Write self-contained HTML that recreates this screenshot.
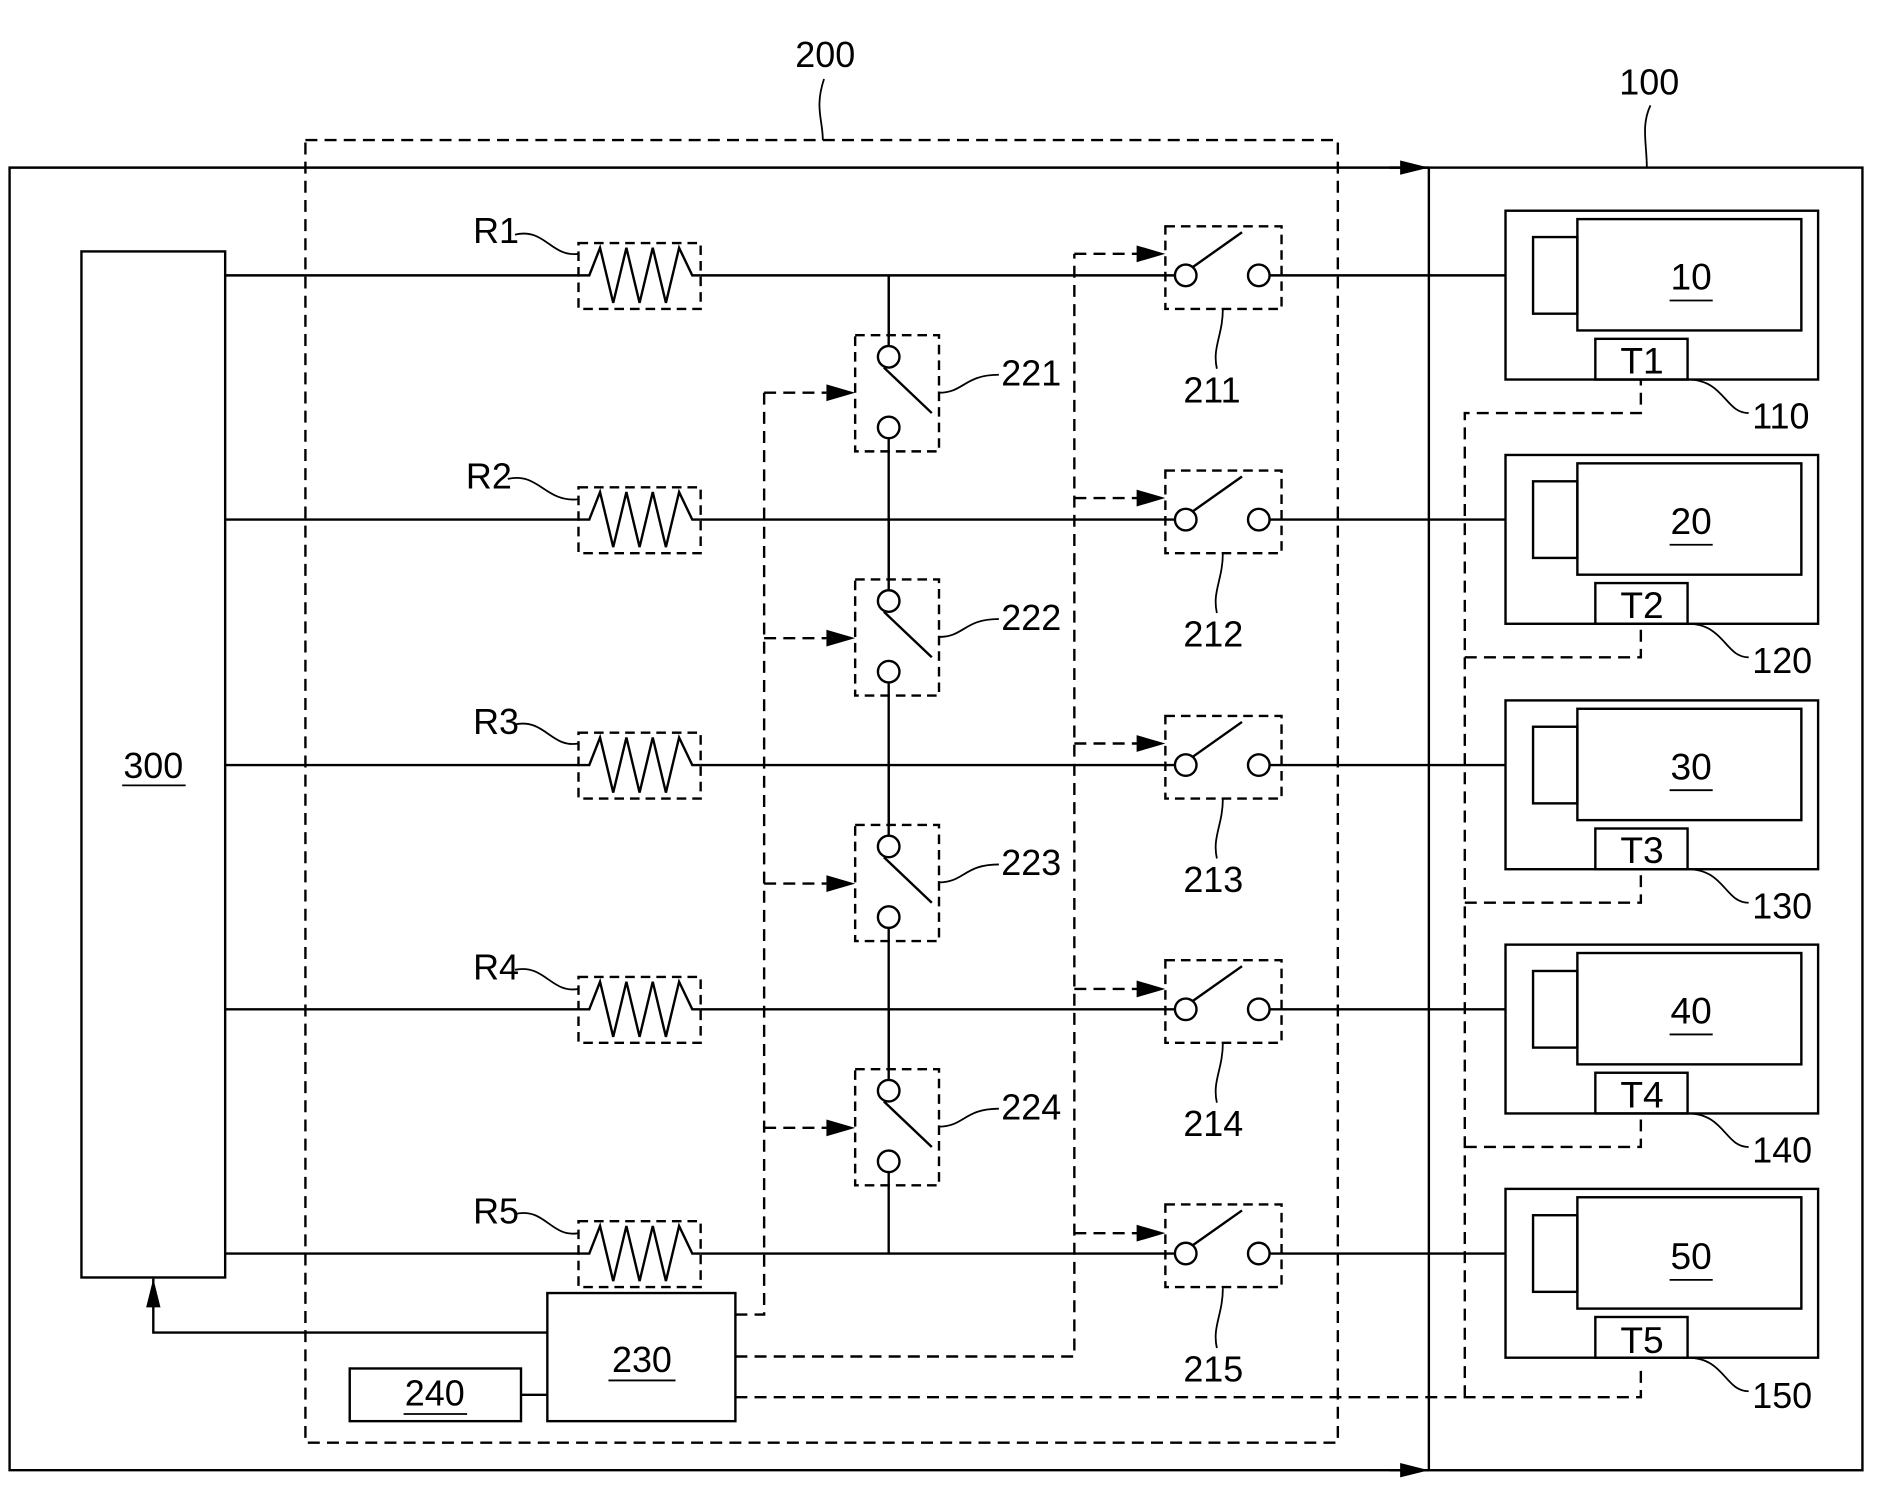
<!DOCTYPE html>
<html><head><meta charset="utf-8"><style>html,body{margin:0;padding:0;background:#fff}svg{display:block}</style></head><body>
<svg width="1878" height="1487" viewBox="0 0 1568 1242" preserveAspectRatio="none" xmlns="http://www.w3.org/2000/svg" font-family="Liberation Sans, sans-serif" font-size="30" fill="none" stroke="#000" stroke-width="2">
<defs>
<marker id="b" markerWidth="24" markerHeight="12" refX="24" refY="6" orient="auto" markerUnits="userSpaceOnUse"><path d="M0,0L24,6L0,12z" fill="#000" stroke="none"/></marker></defs>
<path d="M1193,140H8V1228H1193" />
<path d="M1160,140H1193" marker-end="url(#b)"/>
<path d="M1160,1228H1193" marker-end="url(#b)"/>
<rect x="1193" y="140" width="362" height="1088"/>
<rect x="255" y="117" width="862" height="1088" stroke-dasharray="10,6"/>
<rect x="68" y="210" width="120" height="857"/>
<text x="128" y="650" stroke="none" fill="#000" text-anchor="middle">300</text><path d="M102,656H155" stroke-width="1.5"/>
<path d="M742,230V1047"/>
<path d="M188,230H1257M188,434H1257M188,639H1257M188,843H1257M188,1047H1257"/>
<g stroke-width="2">
<g transform="translate(0,0)"><rect x="483" y="203" width="102" height="55" fill="#fff" stroke-dasharray="8,5"/><path d="M483,230H492L501,207L512,253L523,207L534,253L545,207L556,253L567,207L578,230H585"/></g>
<g transform="translate(0,204)"><rect x="483" y="203" width="102" height="55" fill="#fff" stroke-dasharray="8,5"/><path d="M483,230H492L501,207L512,253L523,207L534,253L545,207L556,253L567,207L578,230H585"/></g>
<g transform="translate(0,409)"><rect x="483" y="203" width="102" height="55" fill="#fff" stroke-dasharray="8,5"/><path d="M483,230H492L501,207L512,253L523,207L534,253L545,207L556,253L567,207L578,230H585"/></g>
<g transform="translate(0,613)"><rect x="483" y="203" width="102" height="55" fill="#fff" stroke-dasharray="8,5"/><path d="M483,230H492L501,207L512,253L523,207L534,253L545,207L556,253L567,207L578,230H585"/></g>
<g transform="translate(0,817)"><rect x="483" y="203" width="102" height="55" fill="#fff" stroke-dasharray="8,5"/><path d="M483,230H492L501,207L512,253L523,207L534,253L545,207L556,253L567,207L578,230H585"/></g>
</g>
<g fill="#000" stroke="none">
<text x="395" y="203">R1</text><text x="389" y="408">R2</text><text x="395" y="613">R3</text><text x="395" y="818">R4</text><text x="395" y="1022">R5</text>
</g>
<path d="M430,196C455,190 460,215 483,212M424,400C450,394 455,420 483,417M430,605C455,600 460,625 483,621M430,810C455,805 460,830 483,826M430,1014C455,1008 460,1034 483,1030" stroke-width="1.5"/>
<g id="vs">
<rect x="714" y="280" width="70" height="97" fill="#fff" stroke-dasharray="8,5"/>
<circle cx="742" cy="298" r="9" fill="#fff"/><circle cx="742" cy="357" r="9" fill="#fff"/>
<path d="M742,230V289M742,366V377M738,307L778,345"/>
</g>
<use href="#vs" y="204"/><use href="#vs" y="409"/><use href="#vs" y="613"/>
<g id="hs">
<rect x="973" y="189" width="97" height="69" fill="#fff" stroke-dasharray="8,5"/>
<circle cx="990" cy="230" r="9" fill="#fff"/><circle cx="1051" cy="230" r="9" fill="#fff"/>
<path d="M973,230H981M1060,230H1070M996,223L1037,194"/>
</g>
<use href="#hs" y="204"/><use href="#hs" y="409"/><use href="#hs" y="613"/><use href="#hs" y="817"/>
<g fill="#000" stroke="none">
<text x="836" y="322">221</text><text x="836" y="526">222</text><text x="836" y="731">223</text><text x="836" y="935">224</text>
<text x="988" y="336">211</text><text x="988" y="540">212</text><text x="988" y="745">213</text><text x="988" y="949">214</text><text x="988" y="1154">215</text>
<text x="664" y="56">200</text><text x="1352" y="79">100</text>
<text x="1463" y="358">110</text><text x="1463" y="562">120</text><text x="1463" y="767">130</text><text x="1463" y="971">140</text><text x="1463" y="1176">150</text>
</g>
<path d="M784,328C805,328 805,313 834,313M784,532C805,532 805,517 834,517M784,737C805,737 805,722 834,722M784,941C805,941 805,926 834,926" stroke-width="1.5"/>
<path d="M1021,258C1021,280 1012,290 1016,308M1021,462C1021,484 1012,494 1016,512M1021,667C1021,689 1012,699 1016,717M1021,871C1021,893 1012,903 1016,921M1021,1076C1021,1098 1012,1108 1016,1126" stroke-width="1.5"/>
<path d="M687,117C687,100 680,90 688,66M1375,140C1375,120 1370,105 1378,88" stroke-width="1.5"/>
<g id="dv">
<rect x="1257" y="176" width="261" height="141"/>
<rect x="1280" y="198" width="37" height="64"/>
<rect x="1317" y="183" width="187" height="93"/>
<rect x="1332" y="283" width="77" height="34"/>
<path d="M1409,317C1440,317 1440,345 1460,345" stroke-width="1.5"/>
</g>
<use href="#dv" y="204"/><use href="#dv" y="409"/><use href="#dv" y="613"/><use href="#dv" y="817"/>
<g fill="#000" stroke="none" font-size="31">
<text x="1412" y="242" text-anchor="middle">10</text><text x="1412" y="446" text-anchor="middle">20</text><text x="1412" y="651" text-anchor="middle">30</text><text x="1412" y="855" text-anchor="middle">40</text><text x="1412" y="1060" text-anchor="middle">50</text>
<text x="1371" y="312" text-anchor="middle">T1</text><text x="1371" y="516" text-anchor="middle">T2</text><text x="1371" y="721" text-anchor="middle">T3</text><text x="1371" y="925" text-anchor="middle">T4</text><text x="1371" y="1130" text-anchor="middle">T5</text>
</g>
<path d="M1394,251H1430M1394,455H1430M1394,660H1430M1394,864H1430M1394,1069H1430" stroke-width="1.5"/>
<rect x="457" y="1080" width="157" height="107" fill="#fff"/>
<rect x="292" y="1143" width="143" height="44"/>
<path d="M435,1165H457"/>
<g fill="#000" stroke="none"><text x="536" y="1146" text-anchor="middle">230</text><text x="363" y="1174" text-anchor="middle">240</text></g>
<path d="M508,1153H564M337,1181H390" stroke-width="1.5"/>
<path d="M457,1113H128V1068" marker-end="url(#b)"/>
<g stroke-dasharray="10,6">
<path d="M614,1098H638V328"/>
<path d="M614,1133H897V212"/>
<path d="M614,1167H1370V1140M1223,1167V345H1370V317M1223,549H1370V521M1223,754H1370V726M1223,958H1370V930"/>
<path d="M638,328H690M638,533H690M638,738H690M638,942H690M897,212H950M897,416H950M897,621H950M897,826H950M897,1030H950"/>
</g>
<g stroke="none" fill="#000">
<path d="M690,321L714,328L690,335zM690,526L714,533L690,540zM690,731L714,738L690,745zM690,935L714,942L690,949z"/>
<path d="M949,205L973,212L949,219zM949,409L973,416L949,423zM949,614L973,621L949,628zM949,819L973,826L949,833zM949,1023L973,1030L949,1037z"/>
</g>
</svg>
</body></html>
